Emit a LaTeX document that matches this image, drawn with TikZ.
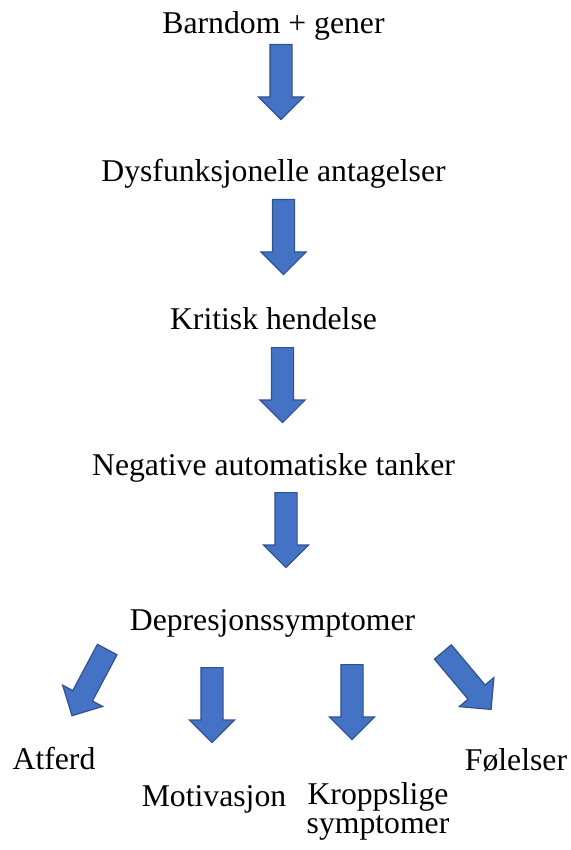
\documentclass[tikz,border=0pt]{standalone}
\usepackage{fontspec}
\setmainfont{Liberation Serif}
\usetikzlibrary{shapes.arrows}

\definecolor{arrowfill}{HTML}{4472C4}
\definecolor{arrowedge}{HTML}{2F528F}

\tikzset{
    stage/.style={font=\fontsize{15.85pt}{14.5pt}\selectfont, inner sep=0pt, anchor=base},
    blockarrow/.style={single arrow, draw=arrowedge, fill=arrowfill, line width=0.6pt,
        minimum height=37.5pt, minimum width=22pt, single arrow head extend=5.75pt,
        single arrow tip angle=90, inner sep=5.25pt, anchor=tail}
}

\begin{document}
\begin{tikzpicture}[x=0.5pt, y=-0.5pt]
    \useasboundingbox (0,0) rectangle (571,850);

    % Chain of stages
    \node[stage] (barndom)    at (273.5,34)  {Barndom + gener};
    \node[stage] (antagelser) at (273.5,182) {Dysfunksjonelle antagelser};
    \node[stage] (hendelse)   at (273.5,329) {Kritisk hendelse};
    \node[stage] (tanker)     at (273.5,475) {Negative automatiske tanker};
    \node[stage] (symptomer)  at (272.5,630) {Depresjonssymptomer};

    % Block arrows between the stages
    \node[blockarrow, rotate=-90] (arr1) at (281,44)    {};
    \node[blockarrow, rotate=-90] (arr2) at (283.5,199) {};
    \node[blockarrow, rotate=-90] (arr3) at (282.5,347) {};
    \node[blockarrow, rotate=-90] (arr4) at (286,492)   {};

    % Fan out to the four kinds of symptoms
    \node[blockarrow, rotate=-118] (arrA) at (107.5,649) {};
    \node[blockarrow, rotate=-90]  (arrB) at (212,667)   {};
    \node[blockarrow, rotate=-90]  (arrC) at (352,664)   {};
    \node[blockarrow, rotate=-50]  (arrD) at (442.5,651.5) {};

    \node[stage] (atferd)     at (54,769)  {Atferd};
    \node[stage] (motivasjon) at (214,806) {Motivasjon};
    % base of a two-line node is the last line
    \node[stage, align=center] (kroppslige) at (378,833) {Kroppslige\\symptomer};
    \node[stage] (folelser)   at (516,770) {Følelser};
\end{tikzpicture}
\end{document}
